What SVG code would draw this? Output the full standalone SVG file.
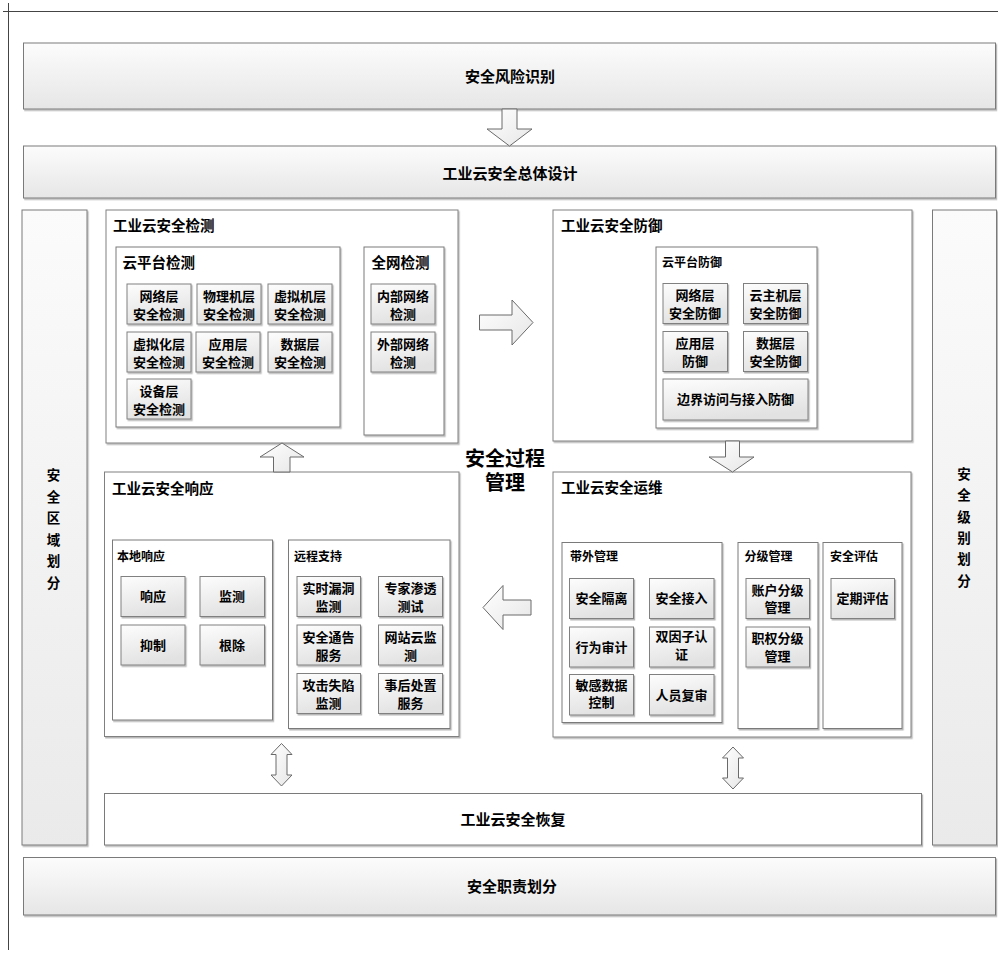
<svg xmlns="http://www.w3.org/2000/svg" width="998" height="953" viewBox="0 0 998 953">
<defs>
  <linearGradient id="gBar" x1="0" y1="0" x2="0" y2="1">
    <stop offset="0" stop-color="#fcfcfc"/>
    <stop offset="1" stop-color="#e6e6e6"/>
  </linearGradient>
  <linearGradient id="gCol" x1="0" y1="0" x2="0" y2="1">
    <stop offset="0" stop-color="#fbfbfb"/>
    <stop offset="1" stop-color="#eaeaea"/>
  </linearGradient>
  <linearGradient id="gBox" x1="0" y1="0" x2="0.3" y2="1">
    <stop offset="0" stop-color="#fdfdfd"/>
    <stop offset="1" stop-color="#e2e2e2"/>
  </linearGradient>
  <linearGradient id="gArrow" x1="0" y1="0" x2="1" y2="1">
    <stop offset="0" stop-color="#ffffff"/>
    <stop offset="1" stop-color="#e6e6e6"/>
  </linearGradient>
  <filter id="sh" x="-5%" y="-5%" width="115%" height="115%">
    <feDropShadow dx="1.2" dy="1.5" stdDeviation="0.7" flood-color="#000" flood-opacity="0.28"/>
  </filter>
</defs>
<style>
  text { font-family: "Noto Sans CJK SC", "Liberation Sans", sans-serif; font-weight: bold; fill: #000; }
  .bar { fill: url(#gBar); stroke: #7a7a7a; stroke-width: 1; filter: url(#sh); }
  .col { fill: url(#gCol); stroke: #7a7a7a; stroke-width: 1; filter: url(#sh); }
  .cont { fill: #ffffff; stroke: #808080; stroke-width: 1; filter: url(#sh); }
  .grp { fill: #ffffff; stroke: #7a7a7a; stroke-width: 1; filter: url(#sh); }
  .box { fill: url(#gBox); stroke: #808080; stroke-width: 1; filter: url(#sh); }
  .arr { fill: url(#gArrow); stroke: #6a6a6a; stroke-width: 1; stroke-linejoin: miter; }
  .big { font-size: 15px; text-anchor: middle; }
  .ttl { font-size: 14.5px; }
  .sub { font-size: 14.5px; }
  .sm { font-size: 12px; }
  .bt { font-size: 13px; text-anchor: middle; }
  .vt { font-size: 13.5px; text-anchor: middle; }
  .frame { stroke: #444; stroke-width: 1; fill: none; }
</style>

<g id="page-frame">
  <line class="frame" x1="3" y1="11.5" x2="998" y2="11.5"/>
  <line class="frame" x1="8.5" y1="3" x2="8.5" y2="950"/>
</g>

<g id="risk-identification">
  <rect class="bar" x="23.5" y="43" width="972" height="66"/>
  <text class="big" x="510" y="82">安全风险识别</text>
</g>

<g id="overall-design">
  <rect class="bar" x="23.5" y="146" width="972" height="52"/>
  <text class="big" x="510" y="178.5">工业云安全总体设计</text>
</g>

<g id="zone-division">
  <rect class="col" x="22" y="210" width="65" height="635"/>
  <text class="vt" x="53.5" y="480"><tspan x="53.5">安</tspan><tspan x="53.5" dy="21.5">全</tspan><tspan x="53.5" dy="21.5">区</tspan><tspan x="53.5" dy="21.5">域</tspan><tspan x="53.5" dy="21.5">划</tspan><tspan x="53.5" dy="21.5">分</tspan></text>
</g>

<g id="level-division">
  <rect class="col" x="932.5" y="210" width="64" height="635"/>
  <text class="vt" x="964" y="479"><tspan x="964">安</tspan><tspan x="964" dy="21.3">全</tspan><tspan x="964" dy="21.3">级</tspan><tspan x="964" dy="21.3">别</tspan><tspan x="964" dy="21.3">划</tspan><tspan x="964" dy="21.3">分</tspan></text>
</g>

<g id="detection">
  <rect class="cont" x="106" y="210" width="352" height="233"/>
  <text class="ttl" x="113" y="231">工业云安全检测</text>
  <g id="cloud-detection">
    <rect class="grp" x="116" y="247" width="224" height="180"/>
    <text class="sub" x="122.5" y="267.5">云平台检测</text>
    <rect class="box" x="127" y="284" width="64" height="40"/>
    <text class="bt" x="159" y="300.5">网络层<tspan x="159" dy="18">安全检测</tspan></text>
    <rect class="box" x="197" y="284" width="64" height="40"/>
    <text class="bt" x="229" y="300.5">物理机层<tspan x="229" dy="18">安全检测</tspan></text>
    <rect class="box" x="268" y="284" width="64" height="40"/>
    <text class="bt" x="300" y="300.5">虚拟机层<tspan x="300" dy="18">安全检测</tspan></text>
    <rect class="box" x="127" y="332" width="64" height="40"/>
    <text class="bt" x="159" y="348.5">虚拟化层<tspan x="159" dy="18">安全检测</tspan></text>
    <rect class="box" x="196" y="332" width="64" height="40"/>
    <text class="bt" x="228" y="348.5">应用层<tspan x="228" dy="18">安全检测</tspan></text>
    <rect class="box" x="268" y="332" width="64" height="40"/>
    <text class="bt" x="300" y="348.5">数据层<tspan x="300" dy="18">安全检测</tspan></text>
    <rect class="box" x="127" y="379" width="64" height="40"/>
    <text class="bt" x="159" y="395.5">设备层<tspan x="159" dy="18">安全检测</tspan></text>
  </g>
  <g id="network-detection">
    <rect class="grp" x="364" y="247" width="80" height="188"/>
    <text class="sub" x="371.5" y="267.5">全网检测</text>
    <rect class="box" x="371" y="284" width="64" height="40"/>
    <text class="bt" x="403" y="300.5">内部网络<tspan x="403" dy="18">检测</tspan></text>
    <rect class="box" x="371" y="332" width="64" height="40"/>
    <text class="bt" x="403" y="348.5">外部网络<tspan x="403" dy="18">检测</tspan></text>
  </g>
</g>

<g id="defense">
  <rect class="cont" x="553" y="210" width="359" height="231"/>
  <text class="ttl" x="561" y="231">工业云安全防御</text>
  <g id="cloud-defense">
    <rect class="grp" x="656" y="247" width="161" height="181"/>
    <text class="sm" x="662" y="266.5">云平台防御</text>
    <rect class="box" x="663" y="283.5" width="64.5" height="40"/>
    <text class="bt" x="695" y="300">网络层<tspan x="695" dy="18">安全防御</tspan></text>
    <rect class="box" x="743.5" y="283.5" width="64" height="40"/>
    <text class="bt" x="775.5" y="300">云主机层<tspan x="775.5" dy="18">安全防御</tspan></text>
    <rect class="box" x="663" y="331.5" width="64.5" height="40"/>
    <text class="bt" x="695" y="348">应用层<tspan x="695" dy="18">防御</tspan></text>
    <rect class="box" x="743.5" y="331.5" width="64" height="40"/>
    <text class="bt" x="775.5" y="348">数据层<tspan x="775.5" dy="18">安全防御</tspan></text>
    <rect class="box" x="663" y="379" width="145" height="41"/>
    <text class="bt" x="735.5" y="404">边界访问与接入防御</text>
  </g>
</g>

<g id="response">
  <rect class="cont" x="104.5" y="472" width="354.5" height="264.5"/>
  <text class="ttl" x="112" y="494">工业云安全响应</text>
  <g id="local-response">
    <rect class="grp" x="112.5" y="540" width="160" height="180"/>
    <text class="sm" x="117" y="560.5">本地响应</text>
    <rect class="box" x="121" y="576.5" width="64" height="40"/>
    <text class="bt" x="153" y="601">响应</text>
    <rect class="box" x="200" y="576.5" width="64.5" height="40"/>
    <text class="bt" x="232" y="601">监测</text>
    <rect class="box" x="121" y="625" width="64" height="40"/>
    <text class="bt" x="153" y="649.5">抑制</text>
    <rect class="box" x="200" y="625" width="64.5" height="40"/>
    <text class="bt" x="232" y="649.5">根除</text>
  </g>
  <g id="remote-support">
    <rect class="grp" x="288.5" y="540" width="161.5" height="188.5"/>
    <text class="sm" x="294" y="560.5">远程支持</text>
    <rect class="box" x="297" y="576.5" width="63.5" height="40"/>
    <text class="bt" x="328.5" y="593">实时漏洞<tspan x="328.5" dy="18">监测</tspan></text>
    <rect class="box" x="378.5" y="576.5" width="64" height="40"/>
    <text class="bt" x="410.5" y="593">专家渗透<tspan x="410.5" dy="18">测试</tspan></text>
    <rect class="box" x="297" y="625" width="63.5" height="40"/>
    <text class="bt" x="328.5" y="641.5">安全通告<tspan x="328.5" dy="18">服务</tspan></text>
    <rect class="box" x="378.5" y="625" width="64" height="40"/>
    <text class="bt" x="410.5" y="641.5">网站云监<tspan x="410.5" dy="18">测</tspan></text>
    <rect class="box" x="297" y="673.5" width="63.5" height="40"/>
    <text class="bt" x="328.5" y="690">攻击失陷<tspan x="328.5" dy="18">监测</tspan></text>
    <rect class="box" x="378.5" y="673.5" width="64" height="40"/>
    <text class="bt" x="410.5" y="690">事后处置<tspan x="410.5" dy="18">服务</tspan></text>
  </g>
</g>

<g id="operations">
  <rect class="cont" x="553" y="472" width="358" height="265"/>
  <text class="ttl" x="561" y="492.5">工业云安全运维</text>
  <g id="out-of-band">
    <rect class="grp" x="562" y="542.5" width="160" height="180"/>
    <text class="sm" x="570" y="561">带外管理</text>
    <rect class="box" x="569.5" y="578.5" width="64" height="40"/>
    <text class="bt" x="601.5" y="603">安全隔离</text>
    <rect class="box" x="649.5" y="578.5" width="64.5" height="40"/>
    <text class="bt" x="681.5" y="603">安全接入</text>
    <rect class="box" x="569.5" y="627" width="64" height="40"/>
    <text class="bt" x="601.5" y="651.5">行为审计</text>
    <rect class="box" x="649.5" y="627" width="64.5" height="40"/>
    <text class="bt" x="681.5" y="641">双因子认<tspan x="681.5" dy="18">证</tspan></text>
    <rect class="box" x="569.5" y="674.5" width="64" height="40.5"/>
    <text class="bt" x="601.5" y="689.5">敏感数据<tspan x="601.5" dy="17.5">控制</tspan></text>
    <rect class="box" x="649.5" y="674.5" width="64.5" height="40.5"/>
    <text class="bt" x="681.5" y="699.5">人员复审</text>
  </g>
  <g id="tiered-management">
    <rect class="grp" x="738" y="542.5" width="80" height="186"/>
    <text class="sm" x="744.5" y="561">分级管理</text>
    <rect class="box" x="746" y="578.5" width="63.5" height="40"/>
    <text class="bt" x="777.5" y="594.5">账户分级<tspan x="777.5" dy="17.5">管理</tspan></text>
    <rect class="box" x="746" y="627" width="63.5" height="40"/>
    <text class="bt" x="777.5" y="643">职权分级<tspan x="777.5" dy="17.5">管理</tspan></text>
  </g>
  <g id="security-assessment">
    <rect class="grp" x="823" y="542.5" width="79" height="186"/>
    <text class="sm" x="830" y="561">安全评估</text>
    <rect class="box" x="831" y="578.5" width="63.5" height="40"/>
    <text class="bt" x="862.5" y="603">定期评估</text>
  </g>
</g>

<g id="process-management">
  <text x="505" y="465.5" style="font-size:20px;text-anchor:middle">安全过程<tspan x="505" dy="24">管理</tspan></text>
</g>

<g id="recovery">
  <rect class="grp" x="104.5" y="793.5" width="817" height="51.5"/>
  <text class="big" x="513" y="825">工业云安全恢复</text>
</g>

<g id="responsibility-division">
  <rect class="bar" x="23.5" y="857.5" width="972" height="57.5"/>
  <text class="big" x="512" y="891.5">安全职责划分</text>
</g>

<g id="connectors">
  <path class="arr" d="M502,109 L517,109 L517,129 L532,129 L509.5,146 L487,129 L502,129 Z"/>
  <path class="arr" d="M479.5,315 L512,315 L512,300 L533,322.5 L512,345 L512,330 L479.5,330 Z"/>
  <path class="arr" d="M725.5,441 L739.5,441 L739.5,457 L754,457 L732.5,472 L709,457 L725.5,457 Z"/>
  <path class="arr" d="M531,600 L503,600 L503,585.5 L483,607.5 L503,629.5 L503,615 L531,615 Z"/>
  <path class="arr" d="M273.5,472 L273.5,457 L260,457 L282,443 L304,457 L290,457 L290,472 Z"/>
  <path class="arr" d="M281.5,743.5 L292,754.5 L287,754.5 L287,775 L292,775 L281.5,786 L271,775 L276,775 L276,754.5 L271,754.5 Z"/>
  <path class="arr" d="M733,747 L743.5,758 L738.5,758 L738.5,778 L743.5,778 L733,789 L722.5,778 L727.5,778 L727.5,758 L722.5,758 Z"/>
</g>
</svg>
